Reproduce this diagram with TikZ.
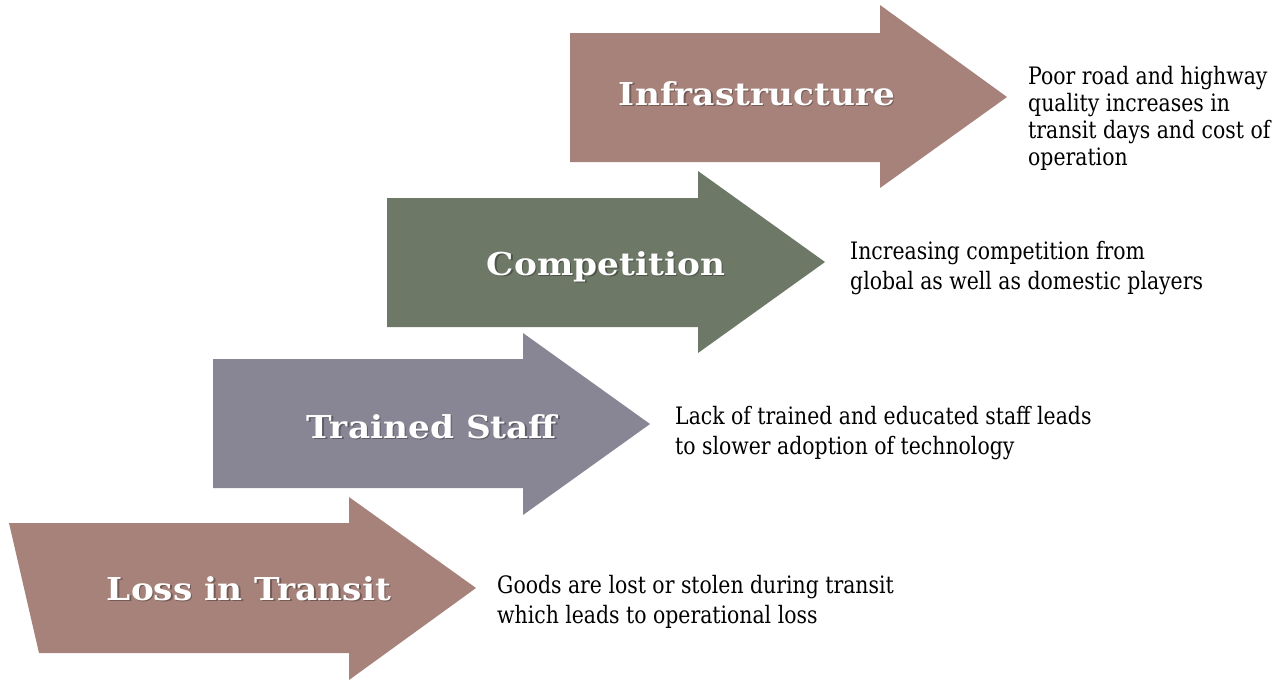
\documentclass[tikz,border=0pt]{standalone}
\usepackage{fontspec}
\setmainfont{DejaVu Serif}[FakeStretch=0.85]
\newfontfamily\lblfont{DejaVu Serif}[FakeStretch=1.09]
\definecolor{rose}{HTML}{A6827B}
\definecolor{sage}{HTML}{6D7867}
\definecolor{slate}{HTML}{888594}
\begin{document}
\begin{tikzpicture}[x=1pt,y=-1pt,
  lbl/.style={text=white,font=\lblfont\bfseries\fontsize{31.5}{36}\selectfont,inner sep=0pt,anchor=base},
  shd/.style={text=black,opacity=0.3,font=\lblfont\bfseries\fontsize{31.5}{36}\selectfont,inner sep=0pt,anchor=base},
  desc/.style={font=\fontsize{24}{29.5}\selectfont,align=left,anchor=base west,inner sep=0pt,text=black}]
\useasboundingbox (0,0) rectangle (1281,680);
% arrows
\fill[rose]  (9,523) -- (349,523) -- (349,497) -- (476,588) -- (349,680) -- (349,653) -- (39,653) -- cycle;
\fill[slate] (213,359) -- (523,359) -- (523,333) -- (650,424) -- (523,515) -- (523,488) -- (213,488) -- cycle;
\fill[sage]  (387,198) -- (698,198) -- (698,171) -- (825,262) -- (698,353) -- (698,327) -- (387,327) -- cycle;
\fill[rose]  (570,33) -- (880,33) -- (880,5) -- (1007,97) -- (880,188) -- (880,162) -- (570,162) -- cycle;
% labels
\node[shd] (lossS) at (250.5,601.5) {Loss in Transit};
\node[lbl] (loss) at (249,600) {Loss in Transit};
\node[shd] (staffS) at (433.5,439.5) {Trained Staff};
\node[lbl] (staff) at (432,438) {Trained Staff};
\node[shd] (compS) at (607.5,276.5) {Competition};
\node[lbl] (comp) at (606,275) {Competition};
\node[shd] (infraS) at (758.5,106.5) {Infrastructure};
\node[lbl] (infra) at (757,105) {Infrastructure};
% descriptions (base anchor = baseline of the last line)
\node[desc,font=\fontsize{24}{27}\selectfont] (infraD) at (1028,165) {Poor road and highway\\quality increases in\\transit days and cost of\\operation};
\node[desc] (compD) at (850,289) {Increasing competition from\\global as well as domestic players};
\node[desc] (staffD) at (675,454) {Lack of trained and educated staff leads\\to slower adoption of technology};
\node[desc] (lossD) at (497,623) {Goods are lost or stolen during transit\\which leads to operational loss};
\end{tikzpicture}
\end{document}
